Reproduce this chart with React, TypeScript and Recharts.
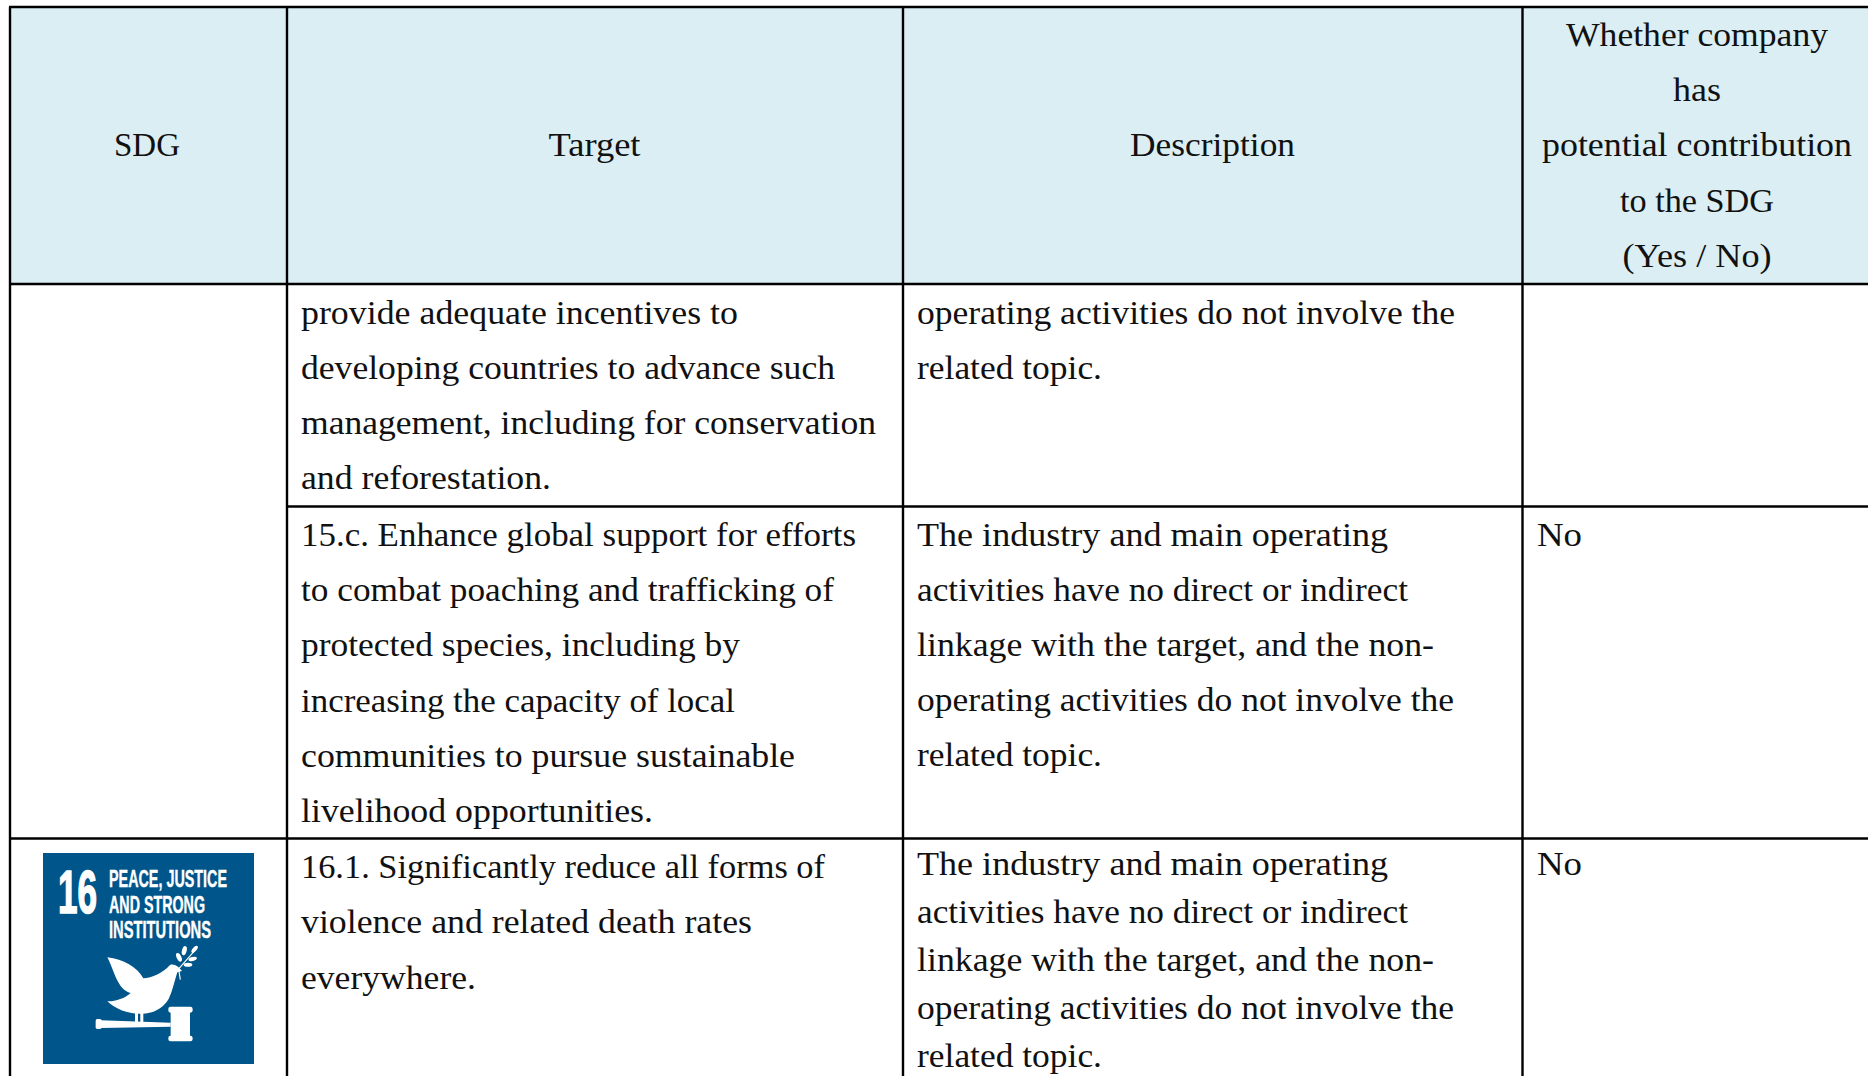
import React from "react";
import { ScatterChart, Scatter, XAxis, YAxis, ReferenceArea, ReferenceLine } from "recharts";

// ---------- table text ----------
const headerSdg = ["SDG"];
const headerTarget = ["Target"];
const headerDescription = ["Description"];
const headerWhether = ["Whether company", "has", "potential contribution", "to the SDG", "(Yes / No)"];

const target15bEnd = [
  "provide adequate incentives to",
  "developing countries to advance such",
  "management, including for conservation",
  "and reforestation.",
];
const description15bEnd = ["operating activities do not involve the", "related topic."];

const target15c = [
  "15.c. Enhance global support for efforts",
  "to combat poaching and trafficking of",
  "protected species, including by",
  "increasing the capacity of local",
  "communities to pursue sustainable",
  "livelihood opportunities.",
];
const description15c = [
  "The industry and main operating",
  "activities have no direct or indirect",
  "linkage with the target, and the non-",
  "operating activities do not involve the",
  "related topic.",
];
const answer15c = ["No"];

const target161 = [
  "16.1. Significantly reduce all forms of",
  "violence and related death rates",
  "everywhere.",
];
const description161 = [...description15c];
const answer161 = ["No"];

const iconNumber = "16";
const iconTitle = ["PEACE, JUSTICE", "AND STRONG", "INSTITUTIONS"];

// ---------- layout, kept apart from the text ----------
const W = 1868;
const H = 1076;
const FONT = "'Liberation Serif', serif";
const FONT_SIZE = 33;
const INK = "#111";
const HEADER_FILL = "#DAEEF3";
const ICON_FILL = "#00558A";

const colLines = [10, 287, 903, 1522.5];
const topLine = 7;
const headerBottom = 284;
const rowLine2 = 506.5;
const rowLine3 = 838.5;

type Block = { lines: string[]; widths: number[]; x: number; y: number; pitch: number; anchor: "start" | "middle" };

const blocks: Block[] = [
  { lines: headerSdg, widths: [66], x: 147, y: 155.5, pitch: 55, anchor: "middle" },
  { lines: headerTarget, widths: [92], x: 594.5, y: 155.5, pitch: 55, anchor: "middle" },
  { lines: headerDescription, widths: [165], x: 1212.5, y: 155.5, pitch: 55, anchor: "middle" },
  { lines: headerWhether, widths: [262, 48, 310, 154, 149], x: 1697, y: 46, pitch: 55.2, anchor: "middle" },
  { lines: target15bEnd, widths: [437, 534, 575, 250], x: 301, y: 323.5, pitch: 55, anchor: "start" },
  { lines: description15bEnd, widths: [538, 185], x: 917, y: 323.5, pitch: 55, anchor: "start" },
  { lines: target15c, widths: [555, 533, 439, 434, 494, 352], x: 301, y: 546, pitch: 55.2, anchor: "start" },
  { lines: description15c, widths: [471, 491, 517, 537, 185], x: 917, y: 546, pitch: 55.1, anchor: "start" },
  { lines: answer15c, widths: [45], x: 1537, y: 546, pitch: 55, anchor: "start" },
  { lines: target161, widths: [524, 451, 175], x: 301, y: 878, pitch: 55.3, anchor: "start" },
  { lines: description161, widths: [471, 491, 517, 537, 185], x: 917, y: 875, pitch: 48, anchor: "start" },
  { lines: answer161, widths: [45], x: 1537, y: 875, pitch: 48, anchor: "start" },
];

const textPoints = blocks.flatMap((b) =>
  b.lines.map((text, i) => ({ x: b.x, y: b.y + i * b.pitch, text, width: b.widths[i], anchor: b.anchor }))
);

const iconBox = { x1: 43, x2: 254, y1: 853, y2: 1064 };
const iconPoints = [{ x: iconBox.x1, y: iconBox.y1 }];

const TextLine = (props: any) => {
  const { cx, cy, payload } = props;
  return (
    <text
      x={cx}
      y={cy}
      textAnchor={payload.anchor}
      fontFamily={FONT}
      fontSize={FONT_SIZE}
      fill={INK}
      textLength={payload.width}
      lengthAdjust="spacingAndGlyphs"
    >
      {payload.text}
    </text>
  );
};

const Icon = (props: any) => {
  const { cx, cy } = props;
  const sans = "'Liberation Sans', sans-serif";
  return (
    <g transform={`translate(${cx},${cy})`}>
      <text x={15} y={60.3} fontFamily={sans} fontWeight={700} fontSize={61} fill="#fff" stroke="#fff" strokeWidth={1.6}
        textLength={39} lengthAdjust="spacingAndGlyphs">
        {iconNumber}
      </text>
      {iconTitle.map((t, i) => (
        <text key={t} x={66} y={34.3 + i * 25.3} fontFamily={sans} fontWeight={700} fontSize={24} fill="#fff" stroke="#fff" strokeWidth={0.4}
          textLength={[118, 96, 102][i]} lengthAdjust="spacingAndGlyphs">
          {t}
        </text>
      ))}
      <g transform="scale(0.3333) translate(-129,-102)" fill="#fff">
        <path d="M322 415 C370 420 412 445 430 478 C455 478 490 460 510 438 C522 432 538 445 546 456 L532 460 C524 485 518 515 506 540 C488 570 458 584 425 584 C388 586 348 572 322 547 C345 548 375 538 392 522 C352 512 345 460 322 415 Z" />
        <rect x="405" y="578" width="9" height="32" />
        <rect x="421" y="578" width="9" height="32" />
        <rect x="287" y="600" width="18" height="30" rx="5" />
        <path d="M303 604 L512 611 L512 623 L303 627 Z" />
        <rect x="512" y="578" width="58" height="74" />
        <rect x="505" y="563" width="73" height="18" rx="7" />
        <rect x="505" y="650" width="73" height="17" rx="7" />
        <path d="M590 388 L536 450 L541 482" stroke="#fff" strokeWidth="3.5" fill="none" />
        <ellipse cx="537" cy="415" rx="7" ry="14" transform="rotate(-25 537 415)" />
        <ellipse cx="553" cy="395" rx="7" ry="14" transform="rotate(15 553 395)" />
        <ellipse cx="584" cy="391" rx="6" ry="13" transform="rotate(40 584 391)" />
        <ellipse cx="578" cy="420" rx="13" ry="6" transform="rotate(-15 578 420)" />
        <ellipse cx="564" cy="437" rx="13" ry="6" />
      </g>
    </g>
  );
};

const line = { stroke: "#000", strokeWidth: 2.4, ifOverflow: "visible" as const };

export default function App() {
  return (
    <div style={{ position: "absolute", left: 0, top: 0, width: W, height: H, background: "#fff", overflow: "hidden" }}>
      <ScatterChart width={W} height={H} margin={{ top: 0, right: 0, bottom: 0, left: 0 }}>
        <XAxis type="number" dataKey="x" domain={[0, W]} hide allowDataOverflow />
        <YAxis type="number" dataKey="y" domain={[0, H]} reversed hide allowDataOverflow width={0} />
        <ReferenceArea x1={colLines[0]} x2={W} y1={topLine} y2={headerBottom} fill={HEADER_FILL} fillOpacity={1} stroke="none" ifOverflow="visible" />
        <ReferenceArea x1={iconBox.x1} x2={iconBox.x2} y1={iconBox.y1} y2={iconBox.y2} fill={ICON_FILL} fillOpacity={1} stroke="none" ifOverflow="visible" />
        {[topLine, headerBottom, rowLine3].map((y) => (
          <ReferenceLine key={y} segment={[{ x: colLines[0] - 1, y }, { x: W, y }]} {...line} />
        ))}
        <ReferenceLine segment={[{ x: colLines[1], y: rowLine2 }, { x: W, y: rowLine2 }]} {...line} />
        {colLines.map((x) => (
          <ReferenceLine key={x} segment={[{ x, y: topLine }, { x, y: H }]} {...line} />
        ))}
        <Scatter data={textPoints} shape={TextLine} isAnimationActive={false} />
        <Scatter data={iconPoints} shape={Icon} isAnimationActive={false} />
      </ScatterChart>
    </div>
  );
}
